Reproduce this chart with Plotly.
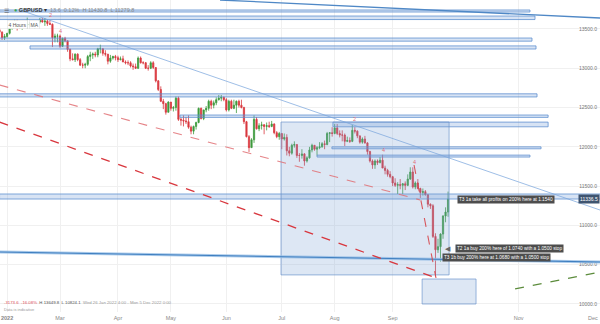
import pandas as pd
import plotly.graph_objects as go

# ---------------- data (GBPUSD daily, x10000) ----------------
dates = pd.bdate_range("2022-01-26", "2022-10-03")

closes = [13460, 13390, 13405, 13445,
          13510, 13570, 13600, 13530, 13530, 13540, 13550, 13560, 13560, 13530, 13540, 13590, 13610, 13590, 13600, 13570, 13560, 13390, 13410, 13410,
          13280, 13380, 13350, 13240, 13120, 13110, 13180, 13110, 13040, 13040, 13050, 13150, 13170, 13180, 13170, 13250, 13250, 13190, 13180, 13090, 13130, 13150, 13135,
          13110, 13120, 13080, 13070, 13070, 13030, 13020, 13000, 13130, 13070, 13070, 13000, 13000, 13070, 13010, 12840, 12730, 12580, 12550, 12440, 12570,
          12490, 12500, 12620, 12350, 12340, 12330, 12320, 12250, 12200, 12260, 12310, 12490, 12360, 12470, 12490, 12580, 12530, 12560, 12600, 12620, 12630, 12600,
          12470, 12580, 12490, 12530, 12580, 12530, 12500, 12320, 12130, 11990, 12090, 12350, 12230, 12270, 12280, 12260, 12270, 12260, 12290, 12180, 12130, 12170,
          12100, 12120, 11950, 11920, 12020, 12030, 11890, 11890, 11910, 11820, 11860, 11960, 12020, 11970, 11990, 12000, 12040, 12030, 12170, 12180, 12170,
          12240, 12170, 12150, 12150, 12070, 12080, 12070, 12210, 12200, 12140, 12060, 12100, 12050, 11940, 11820, 11770, 11820, 11800, 11830, 11730, 11700, 11650, 11620,
          11540, 11510, 11520, 11510, 11530, 11510, 11590, 11680, 11490, 11540, 11470, 11420, 11430, 11390, 11270, 11250, 10860, 10690, 10730, 10890, 11120, 11170,
          11336.5]

highs = [13520, 13470, 13435, 13450,
         13520, 13590, 13620, 13620, 13560, 13560, 13590, 13645, 13590, 13570, 13560, 13600, 13640, 13640, 13640, 13620, 13610, 13570, 13440, 13440,
         13430, 13390, 13400, 13350, 13250, 13190, 13190, 13190, 13130, 13070, 13070, 13170, 13210, 13200, 13210, 13260, 13300, 13250, 13230, 13180, 13170, 13160, 13170,
         13160, 13150, 13160, 13100, 13100, 13090, 13060, 13060, 13150, 13150, 13090, 13080, 13040, 13090, 13090, 13010, 12850, 12770, 12610, 12560, 12580,
         12570, 12520, 12640, 12640, 12370, 12400, 12380, 12400, 12270, 12270, 12320, 12500, 12500, 12470, 12520, 12600, 12600, 12590, 12630, 12660, 12660, 12640,
         12620, 12600, 12600, 12600, 12590, 12600, 12600, 12510, 12330, 12150, 12110, 12400, 12380, 12300, 12320, 12290, 12310, 12320, 12330, 12300, 12200, 12190,
         12170, 12170, 12160, 12000, 12040, 12070, 12030, 11920, 11970, 11920, 11880, 12000, 12040, 12020, 12010, 12060, 12060, 12080, 12190, 12180, 12250,
         12290, 12290, 12210, 12210, 12170, 12130, 12120, 12280, 12250, 12210, 12140, 12120, 12140, 12060, 11950, 11840, 11840, 11840, 11870, 11900, 11760, 11720, 11690,
         11630, 11600, 11550, 11590, 11540, 11560, 11650, 11740, 11740, 11560, 11590, 11480, 11470, 11450, 11400, 11280, 11270, 10900, 10830, 10900, 11130, 11230,
         11430.8]

lows = [13430, 13360, 13360, 13390,
        13430, 13490, 13520, 13480, 13500, 13490, 13520, 13500, 13530, 13510, 13500, 13520, 13570, 13580, 13540, 13540, 13550, 13270, 13330, 13330,
        13260, 13270, 13330, 13210, 13090, 13100, 13080, 13090, 13030, 13000, 13000, 13030, 13090, 13120, 13140, 13140, 13190, 13160, 13150, 13050, 13070, 13110, 13100,
        13080, 13100, 13080, 13050, 13040, 13010, 12980, 12990, 12990, 13060, 13050, 12990, 12970, 12990, 12990, 12820, 12710, 12570, 12480, 12410, 12440,
        12460, 12450, 12460, 12330, 12270, 12260, 12290, 12230, 12160, 12160, 12220, 12300, 12350, 12340, 12440, 12460, 12480, 12490, 12530, 12590, 12580, 12580,
        12450, 12450, 12480, 12480, 12430, 12500, 12490, 12290, 12120, 11935, 11990, 12050, 12220, 12200, 12220, 12160, 12210, 12240, 12250, 12160, 12110, 12090,
        11970, 12080, 11890, 11880, 11900, 11990, 11860, 11810, 11850, 11760, 11800, 11850, 11930, 11950, 11890, 11970, 11990, 11970, 12020, 12060, 12130,
        12160, 12150, 12120, 12070, 12010, 12060, 12050, 12060, 12170, 12110, 12040, 12040, 12040, 11900, 11800, 11720, 11720, 11770, 11790, 11730, 11650, 11620, 11600,
        11500, 11490, 11400, 11460, 11400, 11450, 11500, 11580, 11470, 11460, 11460, 11350, 11380, 11380, 11230, 11210, 10840, 10350, 10650, 10540, 10830, 11040,
        11110]

first_open = 13490
opens = [first_open] + closes[:-1]

# month tick labels and their positions on the bar-index axis
tick_labels = ["<b>2022</b>", "Mar", "Apr", "May", "Jun", "Jul", "Aug", "Sep", "Nov", "Dec"]
tick_pos = [-21, 0, 23, 44, 66, 88, 109, 132, 182, 211.5]

# support / resistance zones: (price_low, price_high, bar_start, bar_end)
zones = [(13716, 13742, -24, 186.5), (13620, 13665, -24, 188.5), (13345, 13385, -24, 187.3),
         (13245, 13285, -11.9, 188.9), (12635, 12675, -24, 189.3), (12375, 12405, 47.6, 193.7),
         (12255, 12315, 108.3, 193.7), (11975, 12000, 107.9, 190.9), (11870, 11895, 102, 186.5),
         (11336, 11400, -24, 215)]
big_box = (87.7, 154.4, 10370, 12316)
small_box = (143.7, 165.1, 10000, 10318)

# trend lines: (x0, y0, x1, y1)
light_trend = (-15.9, 13742, 214.3, 11196)
top_trend = (63.5, 13869, 214.3, 13640)
bottom_trend = (-24, 10662, 214.3, 10535)
green_proj = (180.6, 10191, 214.3, 10407)
red_light = (-24, 12787, 142.9, 11324)
red_steep = (140.5, 11769, 149.2, 10331)
red_dark = (-24, 12316, 149.2, 10331)

wave_labels = [("2", -3.6, 13680), ("4", 0, 13475), ("2", 117, 12355), ("4", 128.2, 11960), ("4", 140.5, 11807)]

notes = [("T3 1a take all profits on 200% here at 1.1540", 157.5, 11336),
         ("T2 1a buy 200% here of 1.0740 with a 1.0500 stop", 156.7, 10700),
         ("T3 1b buy 200% here at 1.0680 with a 1.0500 stop", 151.6, 10598)]

last_price = closes[-1]

# ---------------- figure ----------------
mar1 = list(dates).index(pd.Timestamp("2022-03-01"))
xs = [i - mar1 for i in range(len(dates))]

FONT = "Liberation Sans"
fig = go.Figure()
fig.add_trace(go.Candlestick(
    x=xs, open=opens, high=highs, low=lows, close=closes,
    increasing=dict(line=dict(color="#3d9b3d", width=0.8), fillcolor="#3d9b3d"),
    decreasing=dict(line=dict(color="#d9383f", width=0.8), fillcolor="#d9383f"),
    whiskerwidth=0, showlegend=False, hoverinfo="skip"))

shapes = []
for lo, hi, x0, x1 in zones:
    shapes.append(dict(type="rect", xref="x", yref="y", x0=x0, x1=x1, y0=lo, y1=hi,
                       fillcolor="rgba(110,155,215,0.28)",
                       line=dict(color="rgba(90,140,205,0.75)", width=1), layer="above"))
for (x0, x1, y0, y1) in (big_box, small_box):
    shapes.append(dict(type="rect", xref="x", yref="y", x0=x0, x1=x1, y0=y0, y1=y1,
                       fillcolor="rgba(120,160,210,0.25)",
                       line=dict(color="rgba(110,150,205,0.7)", width=1), layer="above"))


def seg(t, color, width, dash="solid"):
    x0, y0, x1, y1 = t
    return dict(type="line", xref="x", yref="y", x0=x0, y0=y0, x1=x1, y1=y1,
                line=dict(color=color, width=width, dash=dash), layer="above")


shapes.append(seg(light_trend, "rgba(120,165,220,0.8)", 0.9))
shapes.append(seg(top_trend, "#4f88c6", 1.3))
shapes.append(seg(bottom_trend, "rgba(150,190,230,0.8)", 3))
shapes.append(seg(bottom_trend, "#3f7fc0", 1.1))
shapes.append(seg(green_proj, "#5c8c3c", 1.3, "dash"))
shapes.append(seg(red_light, "rgba(225,110,115,0.85)", 1.1, "dash"))
shapes.append(seg(red_steep, "rgba(215,70,75,0.9)", 1.1, "dash"))
shapes.append(seg(red_dark, "#d8363d", 1.3, "dash"))

ann = []
for txt, x, y in wave_labels:
    ann.append(dict(text=txt, x=x, y=y, xref="x", yref="y", showarrow=False,
                    font=dict(family=FONT, size=5.5, color="#e0707a")))
for txt, x, y in notes:
    ann.append(dict(text=txt, x=x, y=y, xref="x", yref="y", xanchor="left", yanchor="middle",
                    showarrow=False, bgcolor="#4d4d4d", borderpad=1,
                    font=dict(family=FONT, size=4.7, color="white")))
# small pointer next to notes
ann.append(dict(text="◀", x=153.8, y=10700, xref="x", yref="y", showarrow=False,
                font=dict(family="DejaVu Sans", size=7, color="#666")))
# last price tag
ann.append(dict(text="%.1f" % last_price, x=1, y=last_price, xref="paper", yref="y",
                xanchor="right", yanchor="middle", showarrow=False, bgcolor="#3e5470",
                borderpad=1, font=dict(family=FONT, size=5, color="white")))
# last month label near the right edge (plotly hides it as a tick label)
ann.append(dict(text=tick_labels[-1], x=tick_pos[-1], y=0, xref="x", yref="paper",
                yanchor="top", yshift=-1, showarrow=False,
                font=dict(family=FONT, size=5.5, color="#888")))
# header / toolbar
ann.append(dict(text="☰", x=0.004, y=0.985, xref="paper", yref="paper", xanchor="left",
                showarrow=False, font=dict(family="DejaVu Sans", size=6, color="#555")))
ann.append(dict(text="<span style='color:#3aa64a'>●</span> <b>GBPUSD</b> ▾  "
                     "<span style='color:#888'>13.6  0.12%  H 11430.8  L 11279.8</span>",
                x=0.02, y=0.985, xref="paper", yref="paper", xanchor="left", showarrow=False,
                font=dict(family=FONT, size=5.5, color="#333")))
for txt, x in (("4 Hours", 0.012), ("MA", 0.049)):
    ann.append(dict(text=txt, x=x, y=0.935, xref="paper", yref="paper", xanchor="left",
                    showarrow=False, bgcolor="white", bordercolor="#ddd", borderwidth=0.5,
                    borderpad=1, font=dict(family=FONT, size=5, color="#555")))
ann.append(dict(text="<span style='color:#e0505a'>-3173.6  -16.08%</span>  H 13649.8  L 10824.1  "
                     "<span style='color:#999'>Wed 26 Jan 2022 4:00 - Mon 5 Dec 2022 0:00</span>",
                x=0.003, y=0.016, xref="paper", yref="paper", xanchor="left", showarrow=False,
                font=dict(family=FONT, size=4.3, color="#555")))
ann.append(dict(text="Data is indicative", x=0.003, y=-0.008, xref="paper", yref="paper",
                xanchor="left", showarrow=False, font=dict(family=FONT, size=4, color="#999")))

fig.update_layout(
    width=600, height=324, margin=dict(l=0, r=0, t=0, b=12),
    paper_bgcolor="white", plot_bgcolor="white",
    shapes=shapes, annotations=ann, showlegend=False,
    xaxis=dict(range=[-23.81, 214.29], tickvals=tick_pos, ticktext=tick_labels,
               showgrid=True, gridcolor="#f0f0f0", zeroline=False, showline=False,
               rangeslider=dict(visible=False), ticks="", ticklabelstandoff=1,
               ticklabeloverflow="allow",
               tickfont=dict(family=FONT, size=5.5, color="#888")),
    yaxis=dict(range=[9898, 13869], tick0=10000, dtick=500, tickformat=".1f",
               side="right", ticklabelposition="inside", showgrid=True, gridcolor="#f0f0f0",
               zeroline=False, showline=False, ticks="",
               tickfont=dict(family=FONT, size=5, color="#777")),
)

fig.write_html("out.html")
